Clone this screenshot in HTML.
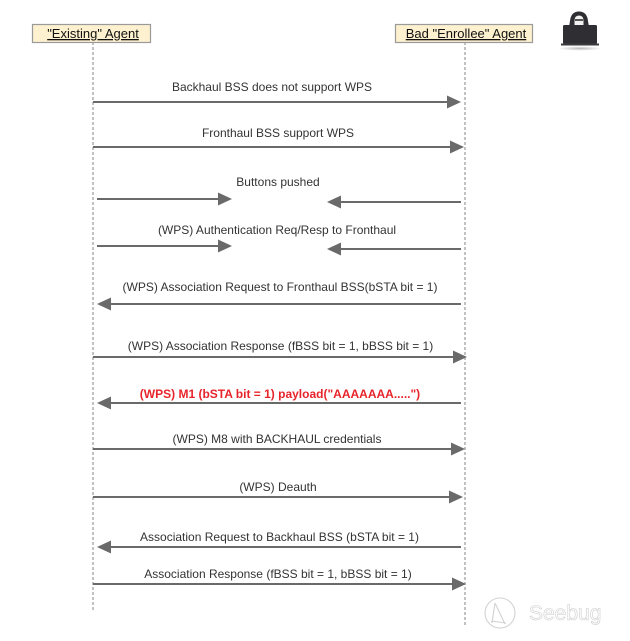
<!DOCTYPE html>
<html>
<head>
<meta charset="utf-8">
<style>
html,body{margin:0;padding:0;background:#fff;}
svg{display:block;}
text{font-family:"Liberation Sans",Arial,sans-serif;}
</style>
</head>
<body>
<svg width="630" height="641" viewBox="0 0 630 641" xmlns="http://www.w3.org/2000/svg">
  <rect width="630" height="641" fill="#fff"/>
  <!-- lifelines -->
  <line x1="93" y1="42" x2="93" y2="610" stroke="#9a9a9a" stroke-width="1.2" stroke-dasharray="3,2"/>
  <line x1="465" y1="42" x2="465" y2="627" stroke="#9a9a9a" stroke-width="1.2" stroke-dasharray="3,2"/>

  <!-- header boxes -->
  <rect x="32.5" y="24.5" width="118" height="18" fill="#fdf1cf" stroke="#9a9a9a" stroke-width="1.2"/>
  <text x="93" y="38" font-size="13" text-anchor="middle" fill="#111" text-decoration="underline">"Existing" Agent</text>
  <rect x="395.5" y="24.5" width="137" height="18" fill="#fdf1cf" stroke="#9a9a9a" stroke-width="1.2"/>
  <text x="466" y="38" font-size="13" text-anchor="middle" fill="#111" text-decoration="underline">Bad "Enrollee" Agent</text>

  <!-- hacker icon -->
  <defs>
    <radialGradient id="sh" cx="0.5" cy="0.5" r="0.5">
      <stop offset="0" stop-color="#b8b8b8"/>
      <stop offset="1" stop-color="#ffffff"/>
    </radialGradient>
  </defs>
  <ellipse cx="580" cy="48.5" rx="22" ry="2.2" fill="url(#sh)"/>
  <path d="M569,27 L570,21 Q571,11.5 579,11.5 Q587,11.5 588,21 L589,27 Z" fill="#2e2e33"/>
  <path d="M574.5,21 Q574.5,15.5 579,15.5 Q583.5,15.5 583.5,21 L583.5,25 L574.5,25 Z" fill="#f2f2f2"/>
  <rect x="575" y="19" width="8" height="2" fill="#555"/>
  <rect x="563" y="25" width="34" height="19" rx="1.5" fill="#2e2e33"/>
  <rect x="561" y="43.5" width="38" height="2" fill="#3a3a3f"/>

  <g fill="#333" font-size="12" text-anchor="middle">
    <text x="272" y="91">Backhaul BSS does not support WPS</text>
    <text x="278" y="137">Fronthaul BSS support WPS</text>
    <text x="278" y="186">Buttons pushed</text>
    <text x="277" y="234">(WPS) Authentication Req/Resp to Fronthaul</text>
    <text x="280" y="291">(WPS) Association Request to Fronthaul BSS(bSTA bit = 1)</text>
    <text x="280.5" y="350">(WPS) Association Response (fBSS bit = 1, bBSS bit = 1)</text>
    <text x="277" y="443">(WPS) M8 with BACKHAUL credentials</text>
    <text x="278" y="491">(WPS) Deauth</text>
    <text x="279.5" y="541">Association Request to Backhaul BSS (bSTA bit = 1)</text>
    <text x="278" y="578">Association Response (fBSS bit = 1, bBSS bit = 1)</text>
  </g>
  <text x="280" y="398" font-size="12" font-weight="bold" text-anchor="middle" fill="#e8242b">(WPS) M1 (bSTA bit = 1) payload("AAAAAAA.....")</text>

  <g stroke="#6a6a6a" stroke-width="2" fill="none">
    <line x1="93" y1="102" x2="448" y2="102"/>
    <line x1="93" y1="147" x2="451" y2="147"/>
    <line x1="97" y1="199" x2="219" y2="199"/>
    <line x1="97" y1="246" x2="219" y2="246"/>
    <line x1="93" y1="357" x2="454" y2="357"/>
    <line x1="93" y1="449" x2="452" y2="449"/>
    <line x1="93" y1="497" x2="450" y2="497"/>
    <line x1="93" y1="584" x2="453" y2="584"/>
    <line x1="461" y1="202" x2="340" y2="202"/>
    <line x1="461" y1="249" x2="340" y2="249"/>
    <line x1="461" y1="304" x2="111" y2="304"/>
    <line x1="461" y1="403" x2="111" y2="403"/>
    <line x1="461" y1="547" x2="110" y2="547"/>
  </g>
  <g fill="#6a6a6a">
    <polygon points="461,102 447,95.5 447,108.5"/>
    <polygon points="464,147 450,140.5 450,153.5"/>
    <polygon points="232,199 218,192.5 218,205.5"/>
    <polygon points="232,246 218,239.5 218,252.5"/>
    <polygon points="467,357 453,350.5 453,363.5"/>
    <polygon points="465,449 451,442.5 451,455.5"/>
    <polygon points="463,497 449,490.5 449,503.5"/>
    <polygon points="466,584 452,577.5 452,590.5"/>
    <polygon points="327,202 341,195.5 341,208.5"/>
    <polygon points="327,249 341,242.5 341,255.5"/>
    <polygon points="97,304 111,297.5 111,310.5"/>
    <polygon points="97,403 111,396.5 111,409.5"/>
    <polygon points="97,547 111,540.5 111,553.5"/>
  </g>

  <!-- Seebug watermark -->
  <g stroke="#d2d2d2" stroke-width="1.1" fill="none">
    <circle cx="500" cy="613" r="15"/>
    <path d="M495,603 L505,624 M495,603 L492,623 M491,621 L506,623"/>
  </g>
  <text x="529" y="620" font-size="21" fill="#ffffff" stroke="#cdcdcd" stroke-width="0.6">Seebug</text>
</svg>
</body>
</html>
